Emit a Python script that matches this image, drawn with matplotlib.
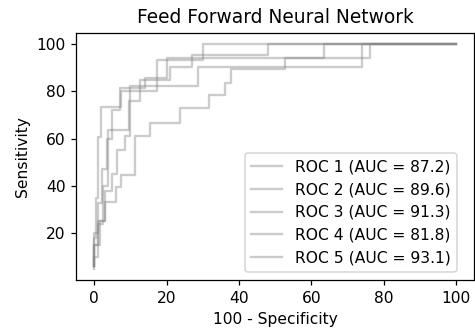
import numpy as np
import matplotlib
matplotlib.use("Agg")
import matplotlib.pyplot as plt

# step points (x = 100 - specificity, y = sensitivity)
roc1_x = [0, 0, 1.5, 1.5, 3, 3, 5, 5, 6.2, 6.2, 8.5, 8.5, 9.8, 9.8, 28.7, 28.7, 74, 74, 100]
roc1_y = [5, 15, 15, 25, 25, 38, 38, 45, 45, 55, 55, 61, 61, 82, 82, 90.4, 90.4, 100, 100]

roc2_x = [0, 0, 1, 1, 2.5, 2.5, 3.9, 3.9, 9.5, 9.5, 12.6, 12.6, 20.8, 20.8, 26.9, 26.9, 48.1, 48.1, 100]
roc2_y = [6, 10, 10, 24, 24, 40, 40, 63.6, 63.6, 76, 76, 84.8, 84.8, 90.2, 90.2, 95.1, 95.1, 100, 100]

roc3_x = [0, 0, 1.1, 1.1, 2, 2, 3.4, 3.4, 5, 5, 7, 7, 14, 14, 20.1, 20.1, 63.6, 63.6, 100]
roc3_y = [6, 20, 20, 33, 33, 47, 47, 60, 60, 72, 72, 81.3, 81.3, 85.5, 85.5, 94.2, 94.2, 100, 100]

roc4_x = [0, 0, 1, 1, 2.9, 2.9, 5.9, 5.9, 7.5, 7.5, 11.2, 11.2, 15.3, 15.3, 23.6, 23.6, 31.7, 31.7,
          36.1, 36.1, 37.9, 37.9, 52.8, 52.8, 76.3, 76.3, 100]
roc4_y = [6, 15, 15, 25, 25, 33.3, 33.3, 39.7, 39.7, 44.6, 44.6, 61.1, 61.1, 66.5, 66.5, 72.8, 72.8, 78.4,
          78.4, 83.4, 83.4, 89.3, 89.3, 94, 94, 100, 100]

roc5_x = [0, 0, 0.5, 0.5, 1.0, 1.0, 1.9, 1.9, 7.4, 7.4, 17.3, 17.3, 30.1, 30.1, 100]
roc5_y = [6, 18, 18, 35, 35, 60.8, 60.8, 73.5, 73.5, 80.1, 80.1, 93, 93, 100, 100]

auc = [87.2, 89.6, 91.3, 81.8, 93.1]

curves = [(roc1_x, roc1_y), (roc2_x, roc2_y), (roc3_x, roc3_y), (roc4_x, roc4_y), (roc5_x, roc5_y)]

# reference looks rendered at ~112 dpi
dpi = 112
fig = plt.figure(figsize=(475 / dpi, 333 / dpi), dpi=dpi)
ax = fig.add_axes([0.1606, 0.159, 0.837, 0.743])

for i, (xs, ys) in enumerate(curves):
    ax.plot(xs, ys, color='gray', alpha=0.4, lw=1.5,
            label='ROC %d (AUC = %.1f)' % (i + 1, auc[i]))

ax.set_xlim(-5, 105)
ax.set_ylim(0.25, 104.75)
ax.set_xticks([0, 20, 40, 60, 80, 100])
ax.set_yticks([20, 40, 60, 80, 100])
ax.set_xlabel('100 - Specificity')
ax.set_ylabel('Sensitivity')
ax.set_title('Feed Forward Neural Network')
ax.legend(loc='lower right', bbox_to_anchor=(0.9565, 0.0336), borderaxespad=0)

fig.savefig('out.png', dpi=dpi)
